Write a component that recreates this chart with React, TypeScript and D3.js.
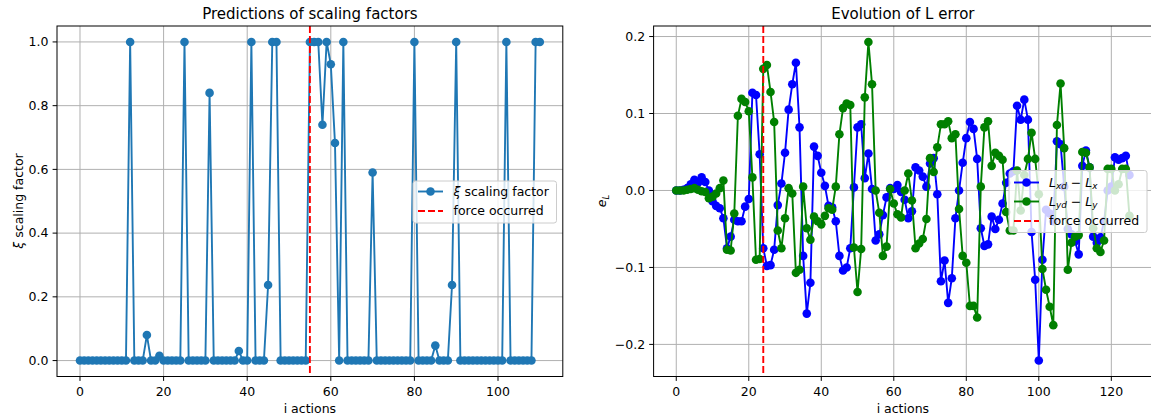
import React from "react";
import * as d3 from "d3";

// left panel: predicted xi per action
const xiValues = [
  0, 0, 0, 0, 0, 0, 0, 0, 0, 0,
  0, 0, 1, 0, 0, 0, 0.08, 0, 0, 0.015,
  0, 0, 0, 0, 0, 1, 0, 0, 0, 0,
  0, 0.84, 0, 0, 0, 0, 0, 0, 0.03, 0,
  0, 1, 0, 0, 0, 0.237, 1, 1, 0, 0,
  0, 0, 0, 0, 0, 1, 1, 1, 0.74, 1,
  0.93, 0.683, 0, 1, 0, 0, 0, 0, 0, 0,
  0.59, 0, 0, 0, 0, 0, 0, 0, 0, 0,
  1, 0, 0, 0, 0, 0.047, 0, 0, 0, 0.237,
  1, 0, 0, 0, 0, 0, 0, 0, 0, 0,
  0, 0, 1, 0, 0, 0, 0, 0, 0, 1, 1,
];
const forceLeft = 55;

// right panel: L error per action
const errX = [
  0, 0, 0.001, 0.003, 0.008, 0.014, 0.01, 0.017, 0.011, 0,
  -0.014, -0.02, -0.023, -0.036, -0.075, -0.06, -0.038, -0.04, -0.04, -0.021,
  -0.011, 0.127, 0.124, 0.047, -0.075, -0.098, -0.097, -0.077, -0.019, 0.009,
  0.049, 0.105, 0.138, 0.166, 0.082, -0.085, -0.16, -0.12, 0.057, 0.045,
  0.023, 0.006, -0.02, -0.022, -0.04, -0.085, -0.104, -0.1, -0.075, 0.004,
  0.082, 0.086, 0.016, 0.048, 0.002, -0.065, -0.057, -0.032, -0.009, 0.003,
  0.002, 0.007, -0.002, -0.012, -0.036, -0.027, 0.03, 0.026, 0.018, 0.005,
  0.035, 0.042, -0.005, -0.118, -0.091, -0.146, -0.114, -0.036, 0, 0.036,
  0.068, 0.089, 0.08, 0.041, -0.049, -0.072, -0.07, -0.034, -0.05, -0.038,
  -0.017, 0.01, 0.022, 0.025, 0.11, 0.092, 0.118, 0.092, -0.054, -0.116,
  -0.221, -0.09, -0.025, -0.03, -0.04, 0.064, 0.06, 0.005, -0.05, -0.057,
  -0.066, -0.083, 0.032, 0.052, 0.03, -0.06, -0.068, -0.061, -0.04, 0,
  0.005, 0.043, 0.04, 0.042, 0.045, 0.02,
];
const errY = [
  0, 0, 0, 0.001, 0.002, 0.003, 0.001, -0.001, -0.002, -0.01,
  -0.008, -0.004, 0.003, 0.013, -0.077, -0.078, -0.03, 0.097, 0.119, 0.115,
  0.103, 0.017, -0.09, -0.089, 0.158, 0.163, 0.128, 0.089, -0.052, -0.075,
  -0.036, 0.003, -0.004, -0.107, -0.103, 0.005, -0.049, -0.064, -0.034, -0.04,
  -0.044, -0.033, -0.023, -0.025, 0.005, 0.073, 0.107, 0.113, 0.111, -0.074,
  -0.132, -0.076, 0.121, 0.193, 0.138, 0, -0.029, -0.085, -0.073, 0.002,
  -0.017, -0.031, -0.035, 0, 0.022, -0.013, -0.075, -0.069, -0.063, -0.037,
  0.042, 0.024, 0.056, 0.086, 0.086, 0.09, 0.068, 0.073, -0.024, -0.085,
  -0.094, -0.15, -0.15, -0.165, 0.005, 0.082, 0.09, 0.032, 0.049, 0.045,
  0.04, -0.028, -0.052, -0.052, 0.026, -0.026, 0.02, 0.041, 0.075, 0.041,
  -0.005, -0.102, -0.129, -0.151, -0.175, 0.085, 0.139, 0.055, -0.103, -0.068,
  -0.06, -0.058, 0.05, 0.049, 0.03, -0.049, -0.075, -0.08, -0.065, 0.028,
  0.028, 0, 0.008, 0.028, 0.028, -0.033,
];
const forceRight = 24;

const leftXTicks = [0, 20, 40, 60, 80, 100];
const leftYTicks = [0, 0.2, 0.4, 0.6, 0.8, 1.0];
const rightXTicks = [0, 20, 40, 60, 80, 100, 120];
const rightYTicks = [-0.2, -0.1, 0, 0.1, 0.2];

const W = 1151;
const H = 420;
const font = "DejaVu Sans";
const top = 26;
const bottom = 376.5;
const markerR = 4.3;

const fmt = (v: number) => d3.format(".1f")(v).replace("-", "\u2212");

type PanelProps = {
  x: d3.ScaleLinear<number, number>;
  y: d3.ScaleLinear<number, number>;
  xTicks: number[];
  yTicks: number[];
  title: string;
  children?: React.ReactNode;
};

const Panel = ({ x, y, xTicks, yTicks, title, children }: PanelProps) => {
  const [x0, x1] = x.range();
  const id = `clip${Math.round(x0)}`;
  return (
    <g>
      <clipPath id={id}>
        <rect x={x0} y={top} width={x1 - x0} height={bottom - top} />
      </clipPath>
      {xTicks.map((t) => (
        <line key={"gx" + t} x1={x(t)} x2={x(t)} y1={top} y2={bottom} stroke="#b0b0b0" strokeWidth={1} />
      ))}
      {yTicks.map((t) => (
        <line key={"gy" + t} x1={x0} x2={x1} y1={y(t)} y2={y(t)} stroke="#b0b0b0" strokeWidth={1} />
      ))}
      <g clipPath={`url(#${id})`}>{children}</g>
      <rect x={x0} y={top} width={x1 - x0} height={bottom - top} fill="none" stroke="black" strokeWidth={1} />
      {xTicks.map((t) => (
        <g key={"tx" + t}>
          <line x1={x(t)} x2={x(t)} y1={bottom} y2={bottom + 4.4} stroke="black" />
          <text x={x(t)} y={395.5} textAnchor="middle" fontSize={12.5}>{t}</text>
        </g>
      ))}
      {yTicks.map((t) => (
        <g key={"ty" + t}>
          <line x1={x0 - 4.4} x2={x0} y1={y(t)} y2={y(t)} stroke="black" />
          <text x={x0 - 8.5} y={y(t)} dy="0.35em" textAnchor="end" fontSize={12.5}>{fmt(t)}</text>
        </g>
      ))}
      <text x={(x0 + x1) / 2} y={18.5} textAnchor="middle" fontSize={15}>{title}</text>
      <text x={(x0 + x1) / 2} y={413} textAnchor="middle" fontSize={12.5}>i actions</text>
    </g>
  );
};

const Series = ({ values, x, y, color }: { values: number[]; x: any; y: any; color: string }) => {
  const line = d3.line<number>().x((_, i) => x(i)).y((d) => y(d));
  return (
    <g>
      <path d={line(values) || ""} fill="none" stroke={color} strokeWidth={1.9} strokeLinejoin="round" />
      {values.map((v, i) => (
        <circle key={i} cx={x(i)} cy={y(v)} r={markerR} fill={color} />
      ))}
    </g>
  );
};

const App = () => {
  const xL = d3.scaleLinear().domain([-5.5, 115.5]).range([57, 562.8]);
  const yL = d3.scaleLinear().domain([-0.05, 1.05]).range([bottom, top]);
  const xR = d3.scaleLinear().domain([-6.25, 131.25]).range([653.6, 1152.1]);
  const yR = d3.scaleLinear().domain([-0.2417, 0.2137]).range([bottom, top]);

  const blueL = "#1f77b4";

  return (
    <svg width={W} height={H} style={{ position: "absolute", left: 0, top: 0, background: "white" }} fontFamily={font}>
      <rect width={W} height={H} fill="white" />

      <Panel x={xL} y={yL} xTicks={leftXTicks} yTicks={leftYTicks} title="Predictions of scaling factors">
        <Series values={xiValues} x={xL} y={yL} color={blueL} />
        <line x1={xL(forceLeft)} x2={xL(forceLeft)} y1={top} y2={bottom} stroke="red" strokeWidth={1.9} strokeDasharray="7,3" />
      </Panel>
      <text transform="translate(23,201) rotate(-90)" textAnchor="middle" fontSize={12.5}>
        <tspan fontStyle="italic">ξ</tspan> scaling factor
      </text>

      {/* left legend */}
      <g>
        <rect x={413} y={181} width={143.5} height={42} rx={2.5} fill="white" fillOpacity={0.8} stroke="#cccccc" />
        <line x1={418} x2={443} y1={191.5} y2={191.5} stroke={blueL} strokeWidth={1.9} />
        <circle cx={430.5} cy={191.5} r={markerR} fill={blueL} />
        <text x={453.5} y={191.5} dy="0.35em" fontSize={12.5}>
          <tspan fontStyle="italic">ξ</tspan> scaling factor
        </text>
        <line x1={418} x2={443} y1={211} y2={211} stroke="red" strokeWidth={1.9} strokeDasharray="7,3" />
        <text x={453.5} y={211} dy="0.35em" fontSize={12.5}>force occurred</text>
      </g>

      <Panel x={xR} y={yR} xTicks={rightXTicks} yTicks={rightYTicks} title="Evolution of L error">
        <Series values={errX} x={xR} y={yR} color="#0000ff" />
        <Series values={errY} x={xR} y={yR} color="#008000" />
        <line x1={xR(forceRight)} x2={xR(forceRight)} y1={top} y2={bottom} stroke="red" strokeWidth={1.9} strokeDasharray="7,3" />
      </Panel>
      <text transform="translate(606,201) rotate(-90)" textAnchor="middle" fontSize={12.5}>
        <tspan fontStyle="italic">e</tspan>
        <tspan fontStyle="italic" fontSize={8.8} dy={2.5}>L</tspan>
      </text>

      {/* right legend */}
      <g>
        <rect x={1009} y={170.5} width={138} height={62} rx={2.5} fill="white" fillOpacity={0.8} stroke="#cccccc" />
        <line x1={1014} x2={1039} y1={182.5} y2={182.5} stroke="#0000ff" strokeWidth={1.9} />
        <circle cx={1026.5} cy={182.5} r={markerR} fill="#0000ff" />
        <text x={1049} y={182.5} dy="0.35em" fontSize={12.5}>
          <tspan fontStyle="italic">L</tspan>
          <tspan fontStyle="italic" fontSize={8.8} dy={2.5}>xd</tspan>
          <tspan dy={-2.5}>{" \u2212 "}</tspan>
          <tspan fontStyle="italic">L</tspan>
          <tspan fontStyle="italic" fontSize={8.8} dy={2.5}>x</tspan>
        </text>
        <line x1={1014} x2={1039} y1={201.5} y2={201.5} stroke="#008000" strokeWidth={1.9} />
        <circle cx={1026.5} cy={201.5} r={markerR} fill="#008000" />
        <text x={1049} y={201.5} dy="0.35em" fontSize={12.5}>
          <tspan fontStyle="italic">L</tspan>
          <tspan fontStyle="italic" fontSize={8.8} dy={2.5}>yd</tspan>
          <tspan dy={-2.5}>{" \u2212 "}</tspan>
          <tspan fontStyle="italic">L</tspan>
          <tspan fontStyle="italic" fontSize={8.8} dy={2.5}>y</tspan>
        </text>
        <line x1={1014} x2={1039} y1={221} y2={221} stroke="red" strokeWidth={1.9} strokeDasharray="7,3" />
        <text x={1049} y={221} dy="0.35em" fontSize={12.5}>force occurred</text>
      </g>
    </svg>
  );
};

export default App;
